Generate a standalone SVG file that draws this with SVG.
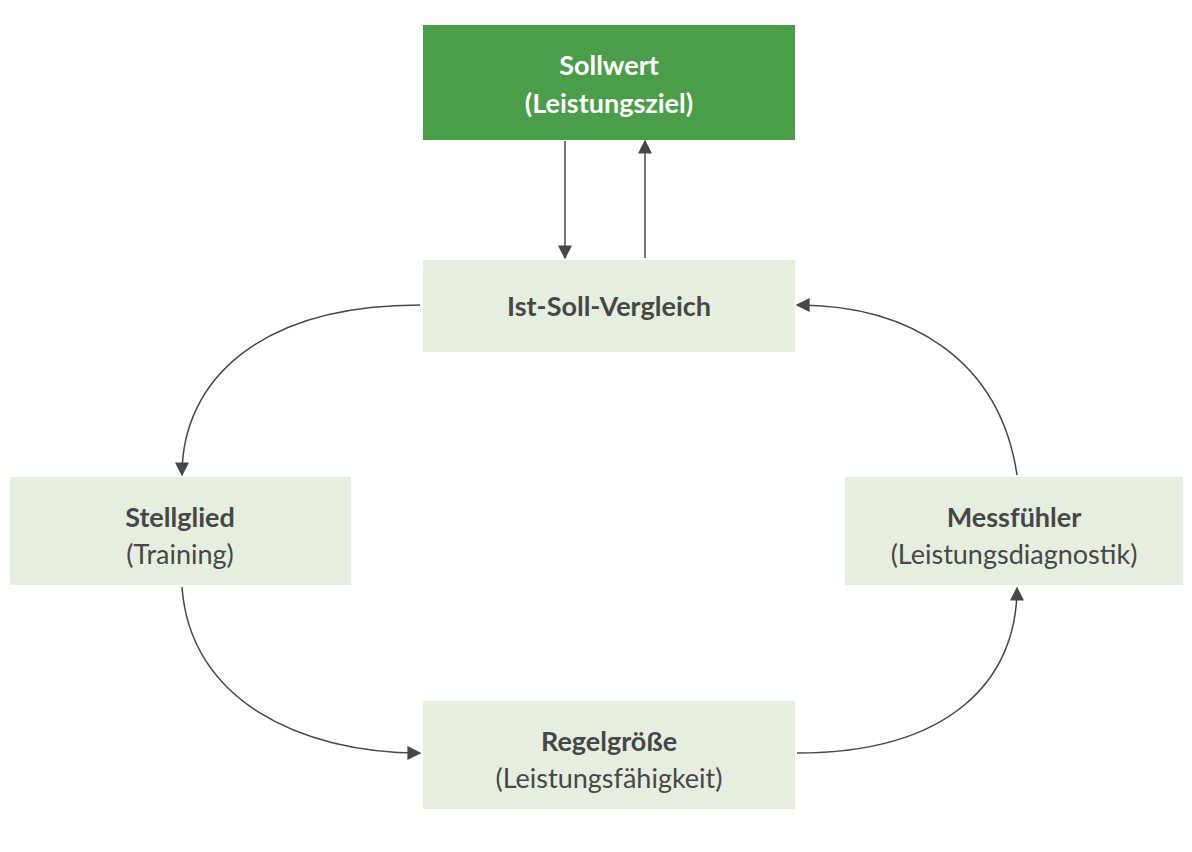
<svg xmlns="http://www.w3.org/2000/svg" width="1192" height="852" viewBox="0 0 1192 852">
<style>
.l{fill:#e6efdf}
.t{font-family:Lato,"Open Sans",sans-serif;font-size:27px;fill:#474747;text-anchor:middle}
.b{font-weight:bold}
.c{fill:none;stroke:#474747;stroke-width:1.5;marker-end:url(#a)}
</style>
<defs><marker id="a" viewBox="0 0 10 10" refX="9" refY="5" markerWidth="14" markerHeight="14" markerUnits="userSpaceOnUse" orient="auto"><path d="M0,0L10,5L0,10z" fill="#474747"/></marker></defs>
<rect width="1192" height="852" fill="#fff"/>
<g id="sollwert"><rect x="423" y="25" width="372" height="115" fill="#4a9e47"/><text class="t b" x="609" y="75" fill="#fff" style="fill:#fff">Sollwert</text><text class="t b" x="609" y="113" style="fill:#fff">(Leistungsziel)</text></g>
<g id="vergleich"><rect class="l" x="423" y="260" width="372" height="92"/><text class="t b" x="609" y="316">Ist-Soll-Vergleich</text></g>
<g id="stellglied"><rect class="l" x="10" y="477" width="341" height="108"/><text class="t b" x="180" y="527">Stellglied</text><text class="t" x="180" y="564">(Training)</text></g>
<g id="messfuehler"><rect class="l" x="845" y="477" width="338" height="108"/><text class="t b" x="1014" y="527">Messfühler</text><text class="t" x="1014" y="564">(Leistungsdiagnostik)</text></g>
<g id="regelgroesse"><rect class="l" x="423" y="701" width="372" height="108"/><text class="t b" x="609" y="751">Regelgröße</text><text class="t" x="609" y="788">(Leistungsfähigkeit)</text></g>
<g id="connectors">
<path class="c" d="M565,141V258"/>
<path class="c" d="M645,258V141"/>
<path class="c" d="M420,305C260,305 182,380 182,475"/>
<path class="c" d="M182,587C190,700 300,753 420,753"/>
<path class="c" d="M797,753C950,753 1017,680 1017,588"/>
<path class="c" d="M1017,475C1000,360 910,305 797,305"/>
</g>
</svg>
